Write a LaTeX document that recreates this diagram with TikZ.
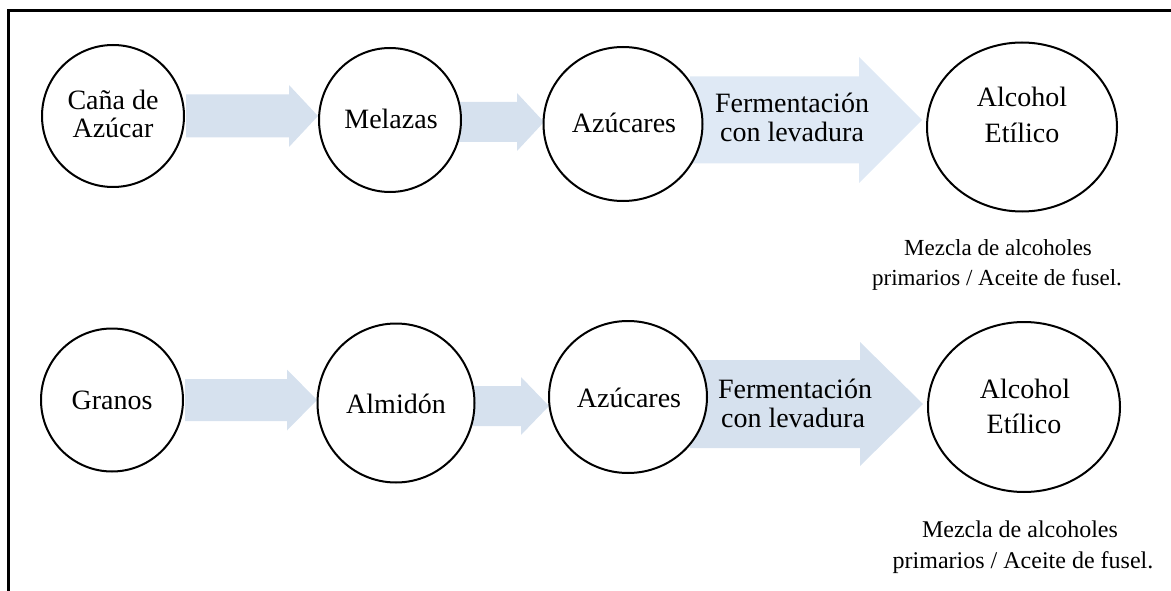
\documentclass[tikz,border=0pt]{standalone}
\usepackage{fontspec}
\setmainfont{Liberation Serif}
\usetikzlibrary{shapes.geometric}
\definecolor{arrsmall}{RGB}{214,225,238}
\definecolor{arrlight}{RGB}{223,233,245}
\newcommand{\blockarr}[7]{% x0, xs, xtip, yc, shaft half, head half, colour
  \fill[#7] (#1,#4-#5) -- (#2,#4-#5) -- (#2,#4-#6) -- (#3,#4) -- (#2,#4+#6) -- (#2,#4+#5) -- (#1,#4+#5) -- cycle;}
\begin{document}
\begin{tikzpicture}[x=1pt,y=-1pt,
  bub/.style={ellipse,draw=black,line width=2pt,fill=white,inner sep=0pt},
  big/.style={anchor=base,inner sep=0pt,font=\fontsize{28}{30}\selectfont},
  small/.style={anchor=base,inner sep=0pt,font=\fontsize{23}{25}\selectfont},
  smallb/.style={anchor=base,inner sep=0pt,font=\fontsize{24}{26}\selectfont}]
\useasboundingbox (0,0) rectangle (1171,591);
% frame
\draw[line width=3pt] (1172,11) -- (8,11) -- (8,592);
% arrows (behind bubbles)
\blockarr{186}{289}{318}{116}{21.5}{31}{arrsmall}
\blockarr{459}{517}{544}{122}{20}{29}{arrsmall}
\blockarr{690}{859}{922}{120}{43.5}{63}{arrlight}
\blockarr{185}{287}{317}{400}{21}{30.5}{arrsmall}
\blockarr{473}{521}{549}{406}{20}{29}{arrsmall}
\blockarr{690}{860}{923}{404}{44}{62}{arrsmall}
% top row bubbles
\node[bub,minimum width=142pt,minimum height=142pt] (c1) at (113,116) {};
\node[bub,minimum width=142pt,minimum height=144pt] (c2) at (390,120) {};
\node[bub,minimum width=159pt,minimum height=154pt] (c3) at (623,124) {};
\node[bub,minimum width=190pt,minimum height=169pt] (c4) at (1022,127) {};
% bottom row bubbles
\node[bub,minimum width=142pt,minimum height=143pt] (d1) at (112,400) {};
\node[bub,minimum width=157pt,minimum height=159pt] (d2) at (396,403) {};
\node[bub,minimum width=158pt,minimum height=152pt] (d3) at (628,397) {};
\node[bub,minimum width=192pt,minimum height=170pt] (d4) at (1024,407) {};
% top row texts
\node[big] (t1a) at (113,110) {Caña de};
\node[big] (t1b) at (113,138) {Azúcar};
\node[big] (t2) at (391,129) {Melazas};
\node[big] (t3) at (624,133) {Azúcares};
\node[big] (f1a) at (792,113) {Fermentación};
\node[big] (f1b) at (792,142) {con levadura};
\node[big] (t4a) at (1022,107) {Alcohol};
\node[big] (t4b) at (1022,143) {Etílico};
\node[small] (m1a) at (998,255) {Mezcla de alcoholes};
\node[small] (m1b) at (997,285) {primarios / Aceite de fusel.};
% bottom row texts
\node[big] (u1) at (112,409) {Granos};
\node[big] (u2) at (396,413) {Almidón};
\node[big] (u3) at (629,407) {Azúcares};
\node[big] (f2a) at (795,398) {Fermentación};
\node[big] (f2b) at (793,427) {con levadura};
\node[big] (u4a) at (1025,398) {Alcohol};
\node[big] (u4b) at (1024,433) {Etílico};
\node[smallb] (m2a) at (1020,537) {Mezcla de alcoholes};
\node[smallb] (m2b) at (1023,568) {primarios / Aceite de fusel.};
\end{tikzpicture}
\end{document}
